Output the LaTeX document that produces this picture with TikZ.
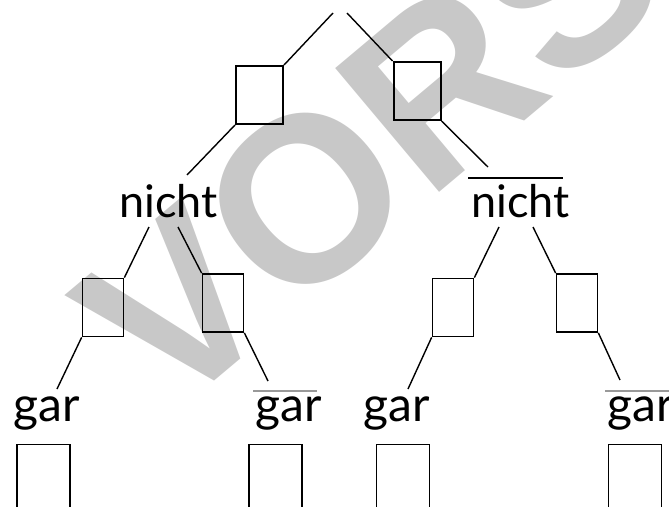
\documentclass[tikz,border=0pt]{standalone}
\usepackage{fontspec}
\setmainfont{Lato}
\newfontfamily\wmfont{Liberation Sans}
\usetikzlibrary{calc}
\definecolor{wmgray}{RGB}{200,200,200}
\begin{document}
\begin{tikzpicture}[x=1pt,y=-1pt,
  boxA/.style={draw=black,line width=2pt,inner sep=0pt,minimum width=47pt,minimum height=58pt},
  boxB/.style={draw=black,line width=1.7pt,inner sep=0pt,minimum width=41pt,minimum height=58pt},
  boxC/.style={draw=black,line width=1.3pt,inner sep=0pt,minimum width=53pt,minimum height=90pt},
  word/.style={inner sep=0pt,anchor=base west,font=\fontsize{45}{50}\selectfont},
  gword/.style={inner sep=0pt,anchor=base west,font=\fontsize{48}{54}\selectfont},
  link/.style={draw=black,line width=1.4pt},
  bar/.style={draw=black,line width=1.6pt},
  gbar/.style={draw=gray!80,line width=1.6pt}]
\useasboundingbox (0,0) rectangle (669,506);
\clip (0,0) rectangle (669,506);
% watermark
\node[text=wmgray,inner sep=0pt,anchor=base west,rotate=40,
  font=\wmfont\bfseries\fontsize{235}{235}\selectfont] (wm) at (167,420.5) {VORSCHAU};
% top level
\coordinate (rootL) at (333,13);
\coordinate (rootR) at (347,13);
\node[boxA] (b1) at (259.5,95) {};
\node[boxA] (b2) at (417,91) {};
% second level words
\node[word] (nL) at (119,217.5) {nicht};
\node[word] (nR) at (471,217.5) {nicht};
% third level boxes
\node[boxB] (b11) at (103,307.5) {};
\node[boxB] (b12) at (223,303) {};
\node[boxB] (b21) at (453,307.5) {};
\node[boxB] (b22) at (577,303) {};
% gar words
\node[gword] (g1) at (13,421.7) {gar};
\node[gword] (g2) at (255,421.7) {gar};
\node[gword] (g3) at (363,421.7) {gar};
\node[gword] (g4) at (607,421.7) {gar};
% bottom boxes
\node[boxC] (c1) at (43.5,489.3) {};
\node[boxC] (c2) at (275.5,489.3) {};
\node[boxC] (c3) at (403,489.3) {};
\node[boxC] (c4) at (635,489.3) {};
% connectors
\draw[link] (rootL) -- (b1.north east);
\draw[link] (rootR) -- (b2.north west);
\draw[link] (b1.south west) -- ($(nL.base west)+(68,-42.5)$);
\draw[link] (b2.south east) -- ($(nR.base west)+(17,-50.5)$);
\draw[link] ($(nL.base west)+(30,9.5)$) -- (b11.north east);
\draw[link] ($(nL.base west)+(59,9.5)$) -- (b12.north west);
\draw[link] ($(nR.base west)+(28,9.5)$) -- (b21.north east);
\draw[link] ($(nR.base west)+(62,9.5)$) -- (b22.north west);
\draw[link] (b11.south west) -- ($(g1.base west)+(44,-32.7)$);
\draw[link] (b12.south east) -- ($(g2.base west)+(13,-40.7)$);
\draw[link] (b21.south west) -- ($(g3.base west)+(45,-32.7)$);
\draw[link] (b22.south east) -- ($(g4.base west)+(13,-41.7)$);
% negation bars
\draw[bar] ($(nR.base west)+(-3,-39.5)$) -- ($(nR.base west)+(92,-39.5)$);
\draw[gbar] ($(g2.base west)+(-2,-30.7)$) -- ($(g2.base west)+(62,-30.7)$);
\draw[gbar] ($(g4.base west)+(-2,-30.7)$) -- ($(g4.base west)+(70,-30.7)$);
\end{tikzpicture}
\end{document}
